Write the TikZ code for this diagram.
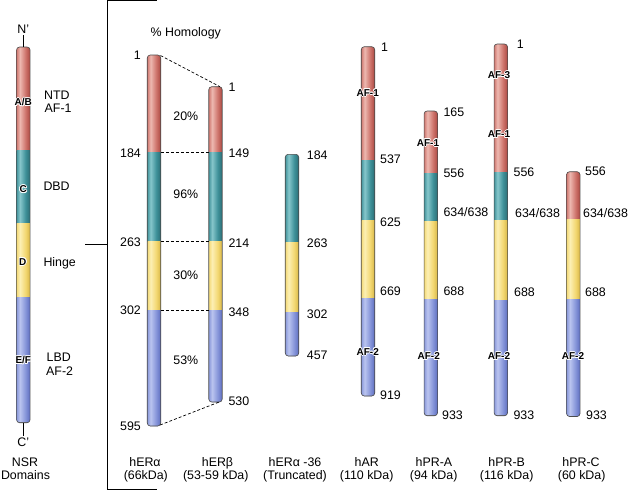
\documentclass[tikz,border=0pt]{standalone}
\usepackage{fontspec}
\setmainfont{Liberation Sans}
\definecolor{rL}{HTML}{EDB8B0}\definecolor{rM}{HTML}{CE746C}\definecolor{rD}{HTML}{A9463F}
\definecolor{tL}{HTML}{86C6CB}\definecolor{tM}{HTML}{3E9199}\definecolor{tD}{HTML}{2A6B73}
\definecolor{yL}{HTML}{FCEFB4}\definecolor{yM}{HTML}{F3D872}\definecolor{yD}{HTML}{D6B444}
\definecolor{bL}{HTML}{BAC4EF}\definecolor{bM}{HTML}{8695D9}\definecolor{bD}{HTML}{5B6BBE}
\pgfdeclarehorizontalshading{shR}{100bp}{color(0bp)=(rM); color(25bp)=(rM); color(38bp)=(rL); color(58bp)=(rM); color(75bp)=(rD); color(100bp)=(rD)}
\pgfdeclarehorizontalshading{shT}{100bp}{color(0bp)=(tM); color(25bp)=(tM); color(38bp)=(tL); color(58bp)=(tM); color(75bp)=(tD); color(100bp)=(tD)}
\pgfdeclarehorizontalshading{shY}{100bp}{color(0bp)=(yM); color(25bp)=(yM); color(38bp)=(yL); color(58bp)=(yM); color(75bp)=(yD); color(100bp)=(yD)}
\pgfdeclarehorizontalshading{shB}{100bp}{color(0bp)=(bM); color(25bp)=(bM); color(38bp)=(bL); color(58bp)=(bM); color(75bp)=(bD); color(100bp)=(bD)}
\tikzset{
 num/.style={font=\fontsize{12.4}{13}\selectfont, inner sep=0pt, text height=8.9pt, text depth=0pt},
 dlab/.style={font=\fontsize{10}{10}\selectfont\bfseries, inner sep=0pt, text height=7.2pt, text depth=0pt},
 barline/.style={draw=black!70, line width=0.6pt},
 divline/.style={draw=black!60, line width=0.6pt},
 dashcon/.style={dash pattern=on 3pt off 2pt, line width=0.7pt},
 frameline/.style={line width=1pt}
}
\newcommand\protbar[4]{%
  \begin{scope}
    \clip[rounded corners=3pt] ({#1-6.75},#2) rectangle ({#1+6.75},#3);
    \foreach \ya/\yb/\sh in {#4}{%
      \shade[shading=\sh] ({#1-7},\ya) rectangle ({#1+7},\yb);
      \draw[divline] ({#1-7},\yb) -- ({#1+7},\yb);}
  \end{scope}
  \draw[barline,rounded corners=3pt] ({#1-6.75},#2) rectangle ({#1+6.75},#3);
}
\newcommand\halolabel[4]{%
  \foreach \hx/\hy in {0.8/0,-0.8/0,0/0.8,0/-0.8,0.6/0.6,-0.6/0.6,0.6/-0.6,-0.6/-0.6}{%
    \node[dlab,text=white] at ({#2+\hx},{#3+\hy}) {#4};}
  \node[dlab] (#1) at (#2,#3) {#4};
}
\begin{document}
\begin{tikzpicture}[x=1pt,y=-1pt]
\useasboundingbox[fill=white] (0,0) rectangle (629,491);
% NSR bar
\protbar{23.3}{47}{422.7}{47/150/shR,150/223.5/shT,223.5/297.7/shY,297.7/422.7/shB}
\coordinate (nsrtop) at (23.3,47);
\coordinate (nsrbot) at (23.3,422.7);
\node[num] (Nlab) at (23.3,29) {N'};
\node[num] (Clab) at (23.3,441.7) {C'};
\draw[line width=0.8pt] ([yshift=-1.5pt]Nlab.south) -- (nsrtop);
\draw[line width=0.8pt] (nsrbot) -- ([yshift=1.5pt]Clab.north);
\halolabel{dAB}{23.3}{102}{A/B}
\halolabel{dC}{23.3}{189}{C}
\halolabel{dD}{22.8}{261.7}{D}
\halolabel{dEF}{23.3}{360}{E/F}
\node[num,anchor=west] (ntd) at (44,95) {NTD};
\node[num,anchor=west] (af1) at (44.5,108.3) {AF-1};
\node[num,anchor=west] (dbd) at (43.3,185.7) {DBD};
\node[num,anchor=west] (hinge) at (43.3,261.7) {Hinge};
\node[num,anchor=west] (lbd) at (46.5,356.7) {LBD};
\node[num,anchor=west] (af2) at (46,370.7) {AF-2};
\node[num] (nsr1) at (25,462) {NSR};
\node[num] (nsr2) at (25.5,475) {Domains};
% bracket
\coordinate (brT) at (107.3,0.8);
\coordinate (brTR) at (156.7,0.8);
\coordinate (brB) at (107.3,489);
\coordinate (brBR) at (156.7,489);
\coordinate (brM) at (107.3,244.3);
\coordinate (brL) at (85,244.3);
\draw[frameline] (brTR) -- (brT) -- (brB) -- (brBR);
\draw[frameline] (brL) -- (brM);
\node[num] (homol) at (185.8,32) {\% Homology};
% hER alpha
\protbar{154}{55}{426}{55/152.7/shR,152.7/241.7/shT,241.7/310/shY,310/426/shB}
\node[num,anchor=east] (a1) at (141,55) {1};
\node[num,anchor=east] (a184) at (141,152.7) {184};
\node[num,anchor=east] (a263) at (141,241.7) {263};
\node[num,anchor=east] (a302) at (141,310) {302};
\node[num,anchor=east] (a595) at (141,425.7) {595};
\node[num] (aname1) at (145,462) {hERα};
\node[num] (aname2) at (145.8,475) {(66kDa)};
% hER beta
\protbar{215.5}{86.7}{402}{86.7/152.7/shR,152.7/241.7/shT,241.7/310/shY,310/402/shB}
\node[num,anchor=west] (b1) at (228.3,86.7) {1};
\node[num,anchor=west] (b149) at (228.3,152.7) {149};
\node[num,anchor=west] (b214) at (228.3,243.3) {214};
\node[num,anchor=west] (b348) at (228.3,312.3) {348};
\node[num,anchor=west] (b530) at (228.3,400.7) {530};
\node[num] (bname1) at (217.5,462) {hERβ};
\node[num] (bname2) at (215.8,475) {(53-59 kDa)};
% homology connectors
\coordinate (aT) at (160.5,55.5);   \coordinate (bT) at (220,86.7);
\coordinate (aR1) at (160.8,152.7); \coordinate (bL1) at (208.8,152.7);
\coordinate (aR2) at (160.8,241.7); \coordinate (bL2) at (208.8,241.7);
\coordinate (aR3) at (160.8,310);   \coordinate (bL3) at (208.8,310);
\coordinate (aB) at (160,425);      \coordinate (bB) at (220,401.7);
\draw[dashcon] (aT) -- (bT);
\draw[dashcon] (aR1) -- (bL1);
\draw[dashcon] (aR2) -- (bL2);
\draw[dashcon] (aR3) -- (bL3);
\draw[dashcon] (aB) -- (bB);
\node[num] (p20) at (185.8,116) {20\%};
\node[num] (p96) at (185.8,194) {96\%};
\node[num] (p30) at (185.8,275) {30\%};
\node[num] (p53) at (185.8,360) {53\%};
% hER alpha-36
\protbar{292}{154.3}{356}{154.3/242.5/shT,242.5/312/shY,312/356/shB}
\node[num,anchor=west] (c184) at (306.7,155) {184};
\node[num,anchor=west] (c263) at (306.7,243) {263};
\node[num,anchor=west] (c302) at (306.7,314.3) {302};
\node[num,anchor=west] (c457) at (306.7,355) {457};
\node[num] (cname1) at (295,462) {hERα -36};
\node[num] (cname2) at (295,475) {(Truncated)};
% hAR
\protbar{368}{46.7}{396}{46.7/160/shR,160/220.7/shT,220.7/298.3/shY,298.3/396/shB}
\node[num,anchor=west] (d1) at (381,46.7) {1};
\node[num,anchor=west] (d537) at (380,158.7) {537};
\node[num,anchor=west] (d625) at (380,221.7) {625};
\node[num,anchor=west] (d669) at (380,290.7) {669};
\node[num,anchor=west] (d919) at (380,395) {919};
\halolabel{dAF1}{367.7}{92.7}{AF-1}
\halolabel{dAF2}{367.7}{351.7}{AF-2}
\node[num] (dname1) at (366.7,462) {hAR};
\node[num] (dname2) at (366.7,475) {(110 kDa)};
% hPR-A
\protbar{430.8}{111}{415.7}{111/173.3/shR,173.3/221/shT,221/299.3/shY,299.3/415.7/shB}
\node[num,anchor=west] (e165) at (443.3,111.7) {165};
\node[num,anchor=west] (e556) at (443.3,172.7) {556};
\node[num,anchor=west] (e634) at (443.3,211.7) {634/638};
\node[num,anchor=west] (e688) at (443.3,290.7) {688};
\node[num,anchor=west] (e933) at (442,415) {933};
\halolabel{eAF1}{428}{142.7}{AF-1}
\halolabel{eAF2}{428.7}{356}{AF-2}
\node[num] (ename1) at (434,462) {hPR-A};
\node[num] (ename2) at (433.7,475) {(94 kDa)};
% hPR-B
\protbar{500.8}{44}{415.7}{44/172.7/shR,172.7/220/shT,220/300/shY,300/415.7/shB}
\node[num,anchor=west] (f1) at (516.7,44) {1};
\node[num,anchor=west] (f556) at (513.5,171.7) {556};
\node[num,anchor=west] (f634) at (515,212.7) {634/638};
\node[num,anchor=west] (f688) at (514,292.3) {688};
\node[num,anchor=west] (f933) at (513.3,415) {933};
\halolabel{fAF3}{499}{75}{AF-3}
\halolabel{fAF1}{499}{134}{AF-1}
\halolabel{fAF2}{499}{356}{AF-2}
\node[num] (fname1) at (506.7,462) {hPR-B};
\node[num] (fname2) at (506.7,475) {(116 kDa)};
% hPR-C
\protbar{573.3}{171.7}{416.5}{171.7/219.3/shR,219.3/299.3/shY,299.3/416.5/shB}
\node[num,anchor=west] (g556) at (585,171) {556};
\node[num,anchor=west] (g634) at (583,212.7) {634/638};
\node[num,anchor=west] (g688) at (585,291.7) {688};
\node[num,anchor=west] (g933) at (586,415) {933};
\halolabel{gAF2}{573}{356}{AF-2}
\node[num] (gname1) at (581,462) {hPR-C};
\node[num] (gname2) at (581.7,475) {(60 kDa)};
\end{tikzpicture}
\end{document}
